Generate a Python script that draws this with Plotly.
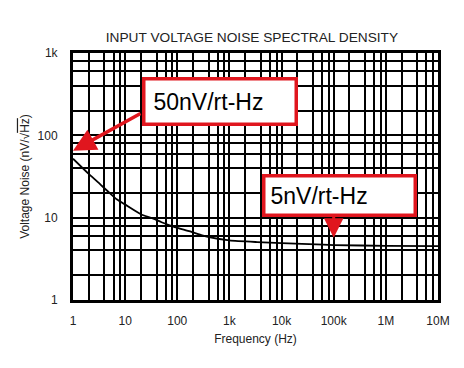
import plotly.graph_objects as go
import numpy as np

# Data
freq_hz = [1, 2, 3, 5, 7, 10, 20, 32, 50, 84, 176, 300, 427, 1000, 3400, 10000, 63000, 100000, 1000000, 10000000]
noise_nv = [52, 34, 27, 20, 16.6, 14.4, 11, 9.9, 8.8, 7.8, 6.8, 6.1, 5.75, 5.3, 5.05, 4.9, 4.7, 4.65, 4.55, 4.5]

x_tick_vals = [1, 10, 100, 1e3, 1e4, 1e5, 1e6, 1e7]
x_tick_text = ["1", "10", "100", "1k", "10k", "100k", "1M", "10M"]
y_tick_vals = [1, 10, 100, 1000]
y_tick_text = ["1", "10", "100", "1k"]
minor_mult = [2, 4, 6, 8]

x_minor = [m * d for d in x_tick_vals[:-1] for m in minor_mult]
y_minor = [m * d for d in y_tick_vals[:-1] for m in minor_mult]

title_text = "INPUT VOLTAGE NOISE SPECTRAL DENSITY"
x_title = "Frequency (Hz)"
y_title = "Voltage Noise (nV/√<span style='text-decoration:overline'>Hz</span>)"
label_high = "50nV/rt-Hz"
label_low = "5nV/rt-Hz"
point_high = (1, 65)
point_low = (1e5, 5.7)

FONT = "Liberation Sans, Arial, sans-serif"
RED = "#e0161e"

fig = go.Figure()
fig.add_trace(go.Scatter(x=freq_hz, y=noise_nv, mode="lines",
                         line=dict(color="black", width=1.8, shape="spline", smoothing=0.6),
                         showlegend=False, hoverinfo="skip"))

axis_common = dict(
    type="log", showgrid=True, gridcolor="black", gridwidth=1.5,
    showline=True, linecolor="black", linewidth=3, mirror=True,
    ticks="", zeroline=False,
    tickfont=dict(family=FONT, size=12, color="#222"),
)
fig.update_xaxes(**axis_common, range=[0, 7], tickmode="array",
                 tickvals=x_tick_vals, ticktext=x_tick_text,
                 ticklabelstandoff=8,
                 minor=dict(tickmode="array", tickvals=x_minor, showgrid=True,
                            gridcolor="black", gridwidth=1.5, ticks=""),
                 title=dict(text=x_title, font=dict(family=FONT, size=12, color="#222"), standoff=8))
fig.update_yaxes(**axis_common, range=[0, 3], tickmode="array",
                 tickvals=y_tick_vals, ticktext=y_tick_text,
                 ticklabelstandoff=10,
                 minor=dict(tickmode="array", tickvals=y_minor, showgrid=True,
                            gridcolor="black", gridwidth=1.5, ticks=""),
                 title=dict(text=y_title, font=dict(family=FONT, size=12, color="#222"), standoff=6))

# Arrows
fig.add_annotation(x=np.log10(point_high[0]), y=np.log10(point_high[1]), xref="x", yref="y",
                   text="", showarrow=True, ax=69, ay=-38,
                   arrowhead=2, arrowsize=1.3, arrowwidth=3.5, arrowcolor=RED)
fig.add_annotation(x=np.log10(point_low[0]), y=np.log10(point_low[1]), xref="x", yref="y",
                   text="", showarrow=True, ax=0, ay=-24,
                   arrowhead=2, arrowsize=1.3, arrowwidth=3, arrowcolor=RED)

# Label boxes
fig.add_annotation(x=0.4027, y=0.8036, xref="paper", yref="paper", text=label_high,
                   showarrow=False, xanchor="center", yanchor="middle", align="left",
                   width=133, borderpad=8, bordercolor=RED, borderwidth=3.5,
                   bgcolor="white", font=dict(family=FONT, size=23, color="black"))
fig.add_annotation(x=0.7288, y=0.423, xref="paper", yref="paper", text=label_low,
                   showarrow=False, xanchor="center", yanchor="middle", align="left",
                   width=138, borderpad=5, bordercolor=RED, borderwidth=3.5,
                   bgcolor="white", font=dict(family=FONT, size=23, color="black"))

fig.update_layout(
    width=464, height=368,
    margin=dict(l=73, r=26, t=53, b=68),
    paper_bgcolor="white", plot_bgcolor="white",
    title=dict(text=title_text, x=0.543, xanchor="center", y=0.9, yanchor="middle",
               font=dict(family=FONT, size=13.7, color="#222")),
)

fig.write_html("out.html", config={"displayModeBar": False},
               post_script="document.body.style.margin='0';document.body.style.overflow='hidden';")
